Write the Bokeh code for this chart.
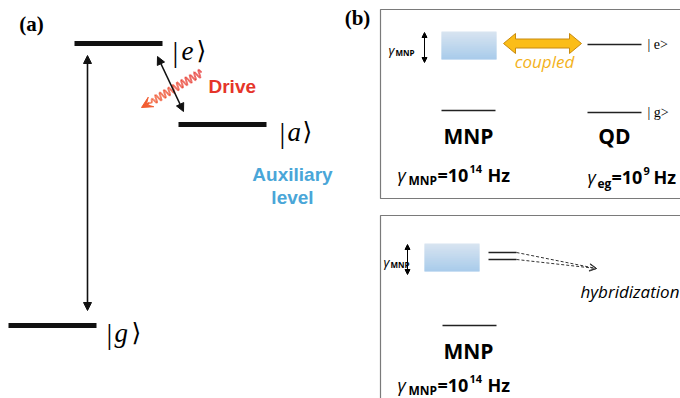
import numpy as np
from bokeh.plotting import figure
from bokeh.models import Range1d, Arrow, NormalHead, VeeHead, OpenHead
from bokeh.core.properties import value
from bokeh.embed import file_html
from bokeh.resources import INLINE

W, H = 680, 398

# ---------------- data: panel (a) energy levels ----------------
level_names = ["e", "a", "g"]
level_x0 = [74, 178, 8]
level_x1 = [162, 266, 96]
level_y = [43, 124, 325]
label_bar_x = [175, 282, 109]
label_letter_x = [181, 287, 114]
label_close_x = [196, 302, 131]

# transitions (pixel diagram coords)
trans_ge = [(87, 310), (87, 55)]
trans_ea = [(157, 56), (183, 111)]
drive_start = (201, 72)
drive_end = (141, 107)

# ---------------- data: panel (b) ----------------
box_left = [380, 380]
box_top = [9, 215]
box_bottom = [198, 410]
mnp_rect_x = [441, 424]
mnp_rect_top = [31, 243]
mnp_rect_bottom = [59, 271]
mnp_rect_w = 55
mnp_ground_x = [441, 442]
mnp_ground_y = [110, 325]
mnp_label_y = [135, 350]
gamma_label_y = [174, 384]
qd_levels_y = [44, 112]
qd_level_labels = ["| e>", "| g>"]

p = figure(width=W, height=H, x_range=Range1d(0, W), y_range=Range1d(H, 0),
           output_backend="svg", toolbar_location=None, min_border=0,
           background_fill_color="white", border_fill_color="white")
p.axis.visible = False
p.grid.visible = False
p.outline_line_color = None


def put(x, y, s, size, style="normal", color="black", font="Open Sans",
        align="left", baseline="alphabetic"):
    p.text(x=[x], y=[y], text=[s], text_font=value(font),
           text_font_size=f"{size}px", text_font_style=style,
           text_color=color, text_align=align, text_baseline=baseline)


# ---- panel (a)
put(31, 23, "(a)", 21, "bold", font="Liberation Serif", align="center", baseline="middle")
p.segment(x0=level_x0, y0=level_y, x1=level_x1, y1=level_y, line_width=5, line_color="#111111")
for bx, lx, cx, yy, nm in zip(label_bar_x, label_letter_x, label_close_x, level_y, level_names):
    base = yy + 7
    put(bx, base + 1, "|", 29, font="Liberation Serif", align="center")
    put(lx, base, nm, 27, "italic", font="Liberation Serif")
    put(cx, base, "\u27e9", 25, font="DejaVu Serif")

for (a, b) in [trans_ge, trans_ea]:
    p.add_layout(Arrow(x_start=a[0], y_start=a[1], x_end=b[0], y_end=b[1],
                       line_width=1.6, line_color="#111111",
                       start=NormalHead(size=8, fill_color="#111111", line_color="#111111"),
                       end=NormalHead(size=8, fill_color="#111111", line_color="#111111")))

# wavy drive arrow
P0 = np.array(drive_start, float)
P1 = np.array(drive_end, float)
d = P1 - P0
L = np.hypot(*d)
u = d / L
nrm = np.array([-u[1], u[0]])
t = np.linspace(0, L - 9, 500)
amp = np.where(t < L - 16, 4.0, 4.0 * np.clip((L - 9 - t) / 7, 0, 1))
pts = P0[None, :] + t[:, None] * u[None, :] + (amp * np.sin(2 * np.pi * t / 5.0))[:, None] * nrm[None, :]
c0 = np.array([0xe6, 0x3a, 0x3a])
c1 = np.array([0xf2, 0x5c, 0x30])
xs, ys, cols = [], [], []
for i in range(len(pts) - 1):
    f = i / (len(pts) - 2)
    c = (c0 * (1 - f) + c1 * f).astype(int)
    xs.append([pts[i, 0], pts[i + 1, 0]])
    ys.append([pts[i, 1], pts[i + 1, 1]])
    cols.append("#%02x%02x%02x" % tuple(c))
p.multi_line(xs=xs, ys=ys, line_color=cols, line_width=1.8)
p.add_layout(Arrow(x_start=pts[-1, 0], y_start=pts[-1, 1], x_end=P1[0], y_end=P1[1],
                   line_width=2.2, line_color="#f25c30",
                   end=VeeHead(size=11, fill_color="#f25c30", line_color="#f25c30")))

put(208, 86, "Drive", 19, "bold", color="#e5352a", font="Liberation Sans")
put(292, 174, "Auxiliary", 19, "bold", color="#4aa6d8", font="Liberation Sans", align="center")
put(292, 197, "level", 19, "bold", color="#4aa6d8", font="Liberation Sans", align="center")

# ---- panel (b)
put(357, 17, "(b)", 21, "bold", font="Liberation Serif", align="center", baseline="middle")
p.quad(left=box_left, right=[700, 700], top=box_top, bottom=box_bottom,
       fill_color=None, line_color="#7a7a7a", line_width=1.2)

# gradient MNP rectangles
nstrip = 28
top_c = np.array([0xd8, 0xe4, 0xf1])
bot_c = np.array([0xa9, 0xcc, 0xeb])
for rx, rt, rb in zip(mnp_rect_x, mnp_rect_top, mnp_rect_bottom):
    edges = np.linspace(rt, rb, nstrip + 1)
    cc = []
    for i in range(nstrip):
        f = i / (nstrip - 1)
        cc.append("#%02x%02x%02x" % tuple((top_c * (1 - f) + bot_c * f).astype(int)))
    bottoms = list(edges[1:] + 0.8)
    bottoms[-1] = rb
    p.quad(left=[rx] * nstrip, right=[rx + mnp_rect_w] * nstrip,
           top=list(edges[:-1]), bottom=bottoms, fill_color=cc, line_color=None)
    ax = rx - 17
    p.add_layout(Arrow(x_start=ax, y_start=rt + 1, x_end=ax, y_end=rb + 3, line_width=1,
                       start=NormalHead(size=5, fill_color="black"),
                       end=NormalHead(size=5, fill_color="black")))
    gx = rx - 53 if rx > 430 else rx - 41
    gy = (rt + rb) / 2 + 4
    put(gx, gy, "\u03b3", 13, "italic")
    put(gx + 7, gy + 3, "MNP", 8, "bold")

# MNP ground lines and labels
for gx_, gy_, ly, gl in zip(mnp_ground_x, mnp_ground_y, mnp_label_y, gamma_label_y):
    p.segment(x0=[gx_], y0=[gy_], x1=[gx_ + 54], y1=[gy_], line_width=1.3, line_color="#222222")
    put(468, ly, "MNP", 21, "bold", align="center", baseline="middle")
    put(397, gl, "\u03b3", 18, "italic")
    put(408, gl + 6, "MNP", 12, "bold")
    put(437, gl, "=10", 18, "bold")
    put(469, gl - 6, "14", 11, "bold")
    put(487, gl, "Hz", 18, "bold")

# QD levels
p.segment(x0=[587, 587], y0=qd_levels_y, x1=[641, 641], y1=qd_levels_y, line_width=1.3, line_color="#222222")
for yy, lab in zip(qd_levels_y, qd_level_labels):
    put(647, yy, lab, 14, font="Liberation Serif", baseline="middle")
put(614, 135, "QD", 21, "bold", align="center", baseline="middle")
put(587, 176, "\u03b3", 18, "italic")
put(597, 183, "eg", 12, "bold")
put(611, 176, "=10", 18, "bold")
put(643, 170, "9", 11, "bold")
put(653, 176, "Hz", 18, "bold")

# coupled block arrow
ya = 43
xl, xr = 503, 581
hl, hh, bh = 12, 10, 4.5
px = [xl, xl + hl, xl + hl, xr - hl, xr - hl, xr, xr - hl, xr - hl, xl + hl, xl + hl]
py = [ya, ya - hh, ya - bh, ya - bh, ya - hh, ya, ya + hh, ya + bh, ya + bh, ya + hh]
p.patch(x=px, y=py, fill_color="#fbbd18", line_color="#c88a10", line_width=1)
put(544, 61, "coupled", 17, "italic", color="#f3b21c", align="center", baseline="middle")

# hybridization lines
p.segment(x0=[488, 488], y0=[252, 259], x1=[516, 516], y1=[252, 259], line_width=1.5, line_color="#222222")
for y0 in [252, 259]:
    p.add_layout(Arrow(x_start=516, y_start=y0, x_end=596, y_end=268, line_width=1,
                       line_dash="3 2", line_color="#333333",
                       end=OpenHead(size=7, line_width=1, line_color="#333333")))
put(580, 291, "hybridization", 17, "italic", baseline="middle")

open("out.html", "w").write(file_html(p, INLINE))
